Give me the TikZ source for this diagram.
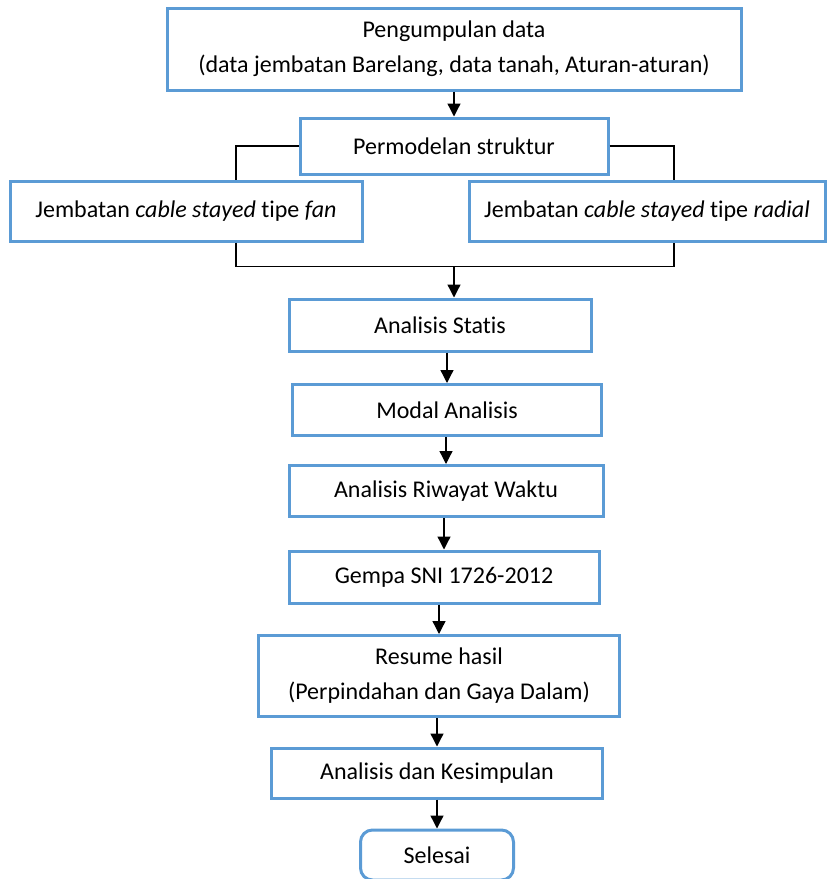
\documentclass[tikz,border=0pt]{standalone}
\usepackage{fontspec}
\setmainfont[Ligatures=NoCommon]{Carlito}
\usetikzlibrary{positioning, arrows.meta}
\definecolor{boxblue}{RGB}{91,155,213}

\begin{document}
\begin{tikzpicture}[x=1pt,y=-1pt,>={Triangle[length=13pt,width=13pt]},on grid,
    box/.style={draw=boxblue,line width=3pt,align=center,inner sep=0pt,
      font=\fontsize{24}{35}\selectfont},
    link/.style={line width=1.3pt},
    arr/.style={link,->}]
    \useasboundingbox (0,0) rectangle (828,879);

    \node[box,minimum width=574pt,minimum height=82pt] (data) at (454,49)
      {Pengumpulan data\\(data jembatan Barelang, data tanah, Aturan-aturan)};
    \node[box,minimum width=308pt,minimum height=56pt] (model) [below=97pt of data] {Permodelan struktur};
    \node[box,minimum width=352pt,minimum height=60pt] (fan) [below left=65pt and 268pt of model]
      {Jembatan \textit{cable stayed} tipe \textit{fan}};
    \node[box,minimum width=356pt,minimum height=60pt] (radial) [below right=65pt and 193pt of model]
      {Jembatan \textit{cable stayed} tipe \textit{radial}};
    \node[box,minimum width=302pt,minimum height=52pt] (statis) [below left=179pt and 14pt of model] {Analisis Statis};
    \node[box,minimum width=309pt,minimum height=51pt] (modal) [below right=85pt and 7pt of statis] {Modal Analisis};
    \node[box,minimum width=314pt,minimum height=51pt] (riwayat) [below left=81pt and 1pt of modal] {Analisis Riwayat Waktu};
    \node[box,minimum width=310pt,minimum height=52pt] (gempa) [below left=86pt and 2pt of riwayat] {Gempa SNI 1726-2012};
    \node[box,minimum width=361pt,minimum height=81pt] (hasil) [below left=99pt and 5pt of gempa]
      {Resume hasil\\(Perpindahan dan Gaya Dalam)};
    \node[box,minimum width=331pt,minimum height=50pt] (simpul) [below left=97pt and 2pt of hasil] {Analisis dan Kesimpulan};
    \node[box,rounded corners=12pt,minimum width=153pt,minimum height=50pt] (selesai) [below=82pt of simpul] {Selesai};

    % cabang ke dua tipe jembatan
    \coordinate (fantop) at ([xshift=50pt]fan.north);
    \coordinate (fanbot) at ([xshift=50pt]fan.south);
    \coordinate (radtop) at ([xshift=27pt]radial.north);
    \coordinate (radbot) at ([xshift=27pt]radial.south);
    \coordinate (join) at ([yshift=-24pt]fanbot -| data.south);

    \draw[arr] (data.south) -- (data.south |- model.north);
    \draw[link] (model.west) -| (fantop);
    \draw[link] (model.east) -| (radtop);
    \draw[link] (fanbot) |- (join) -| (radbot);
    \draw[arr] (join) -- (join |- statis.north);

    % alur analisis
    \draw[arr] (statis.south -| modal.north) -- (modal.north);
    \draw[arr] (modal.south -| riwayat.north) -- (riwayat.north);
    \draw[arr] (riwayat.south -| gempa.north) -- (gempa.north);
    \draw[arr] (gempa.south -| hasil.north) -- (hasil.north);
    \draw[arr] (hasil.south -| simpul.north) -- (simpul.north);
    \draw[arr] (simpul.south -| selesai.north) -- (selesai.north);
\end{tikzpicture}
\end{document}
